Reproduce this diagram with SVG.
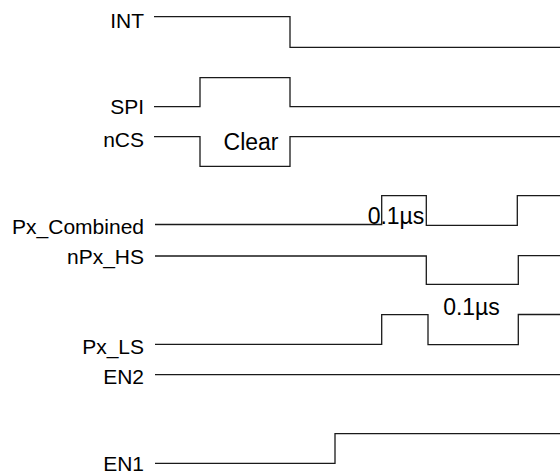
<svg xmlns="http://www.w3.org/2000/svg" width="560" height="473" viewBox="0 0 560 473">
<style>
.lbl{font-family:"Liberation Sans",Arial,sans-serif;font-size:21px;fill:#000;text-anchor:end}
.note{font-family:"Liberation Sans",Arial,sans-serif;font-size:23px;fill:#000;text-anchor:middle}
.wave{fill:none;stroke:#1a1a1a;stroke-width:1.3}
</style>
<rect width="560" height="473" fill="#fff"/>
<g id="INT"><text class="lbl" x="144" y="27.5">INT</text></g>
<g id="SPI"><text class="lbl" x="144" y="114">SPI</text></g>
<g id="nCS"><text class="lbl" x="144" y="146.5">nCS</text><text class="note" x="251" y="149.5">Clear</text></g>
<g id="Px_Combined"><text class="lbl" x="144" y="233.5">Px_Combined</text><text class="note" x="396" y="224">0.1µs</text></g>
<g id="nPx_HS"><text class="lbl" x="144" y="263.5">nPx_HS</text></g>
<g id="Px_LS"><text class="lbl" x="144" y="353.5">Px_LS</text><text class="note" x="471.5" y="315">0.1µs</text></g>
<g id="EN2"><text class="lbl" x="144" y="383.5">EN2</text></g>
<g id="EN1"><text class="lbl" x="144" y="471">EN1</text></g>
<g id="waveforms">
<path class="wave" d="M154,16.7 H290 V47.3 H560"/>
<path class="wave" d="M154,106.7 H200 V77.7 H290 V106.7 H560"/>
<path class="wave" d="M154,136.7 H200 V166.3 H290 V136.7 H560"/>
<path class="wave" d="M155,224.5 H381.7 V195.7 H426.3 V225.3 H517.3 V195.7 H560"/>
<path class="wave" d="M155,256 H426.3 V284.3 H518.3 V255.7 H560"/>
<path class="wave" d="M155,344.3 H381.7 V314.7 H428 V344.7 H518.3 V314.5 H560"/>
<path class="wave" d="M155,374.7 H560"/>
<path class="wave" d="M155,463.3 H335 V433.7 H560"/>
</g>
</svg>
